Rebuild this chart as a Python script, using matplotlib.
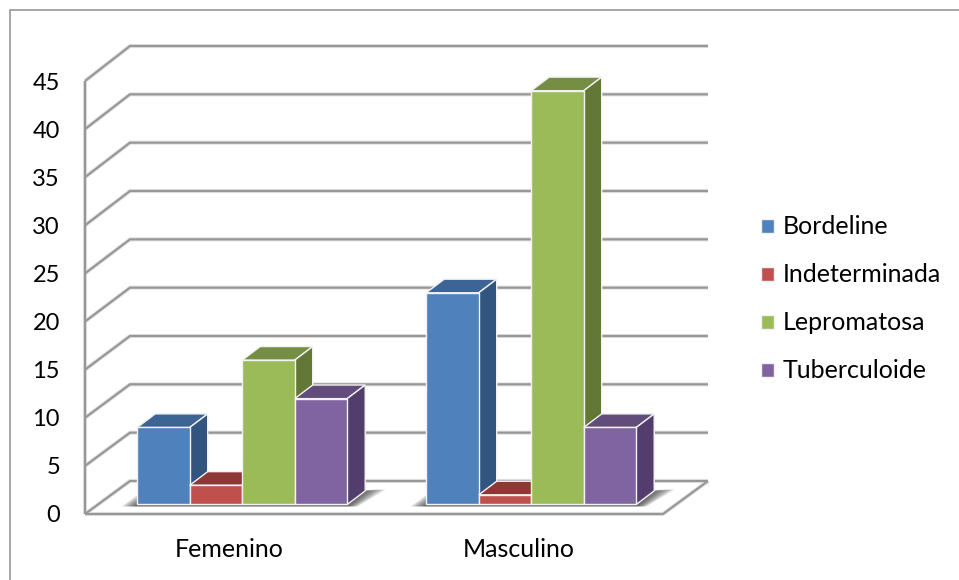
import matplotlib
matplotlib.use("Agg")
import matplotlib.pyplot as plt
from matplotlib.patches import Polygon, Rectangle

plt.rcParams['font.family'] = ['Lato', 'DejaVu Sans']

# Cases per sex and clinical form
categories = ['Femenino', 'Masculino']
series_names = ['Bordeline', 'Indeterminada', 'Lepromatosa', 'Tuberculoide']
bordeline = [8, 22]
indeterminada = [2, 1]
lepromatosa = [15, 43]
tuberculoide = [11, 8]
series_values = [bordeline, indeterminada, lepromatosa, tuberculoide]
y_ticks = list(range(0, 50, 5))

front_colors = ['#4F81BD', '#C0504D', '#9BBB59', '#8064A2']
top_colors = ['#3C6494', '#8E3735', '#768E43', '#624C7C']
side_colors = ['#32557F', '#7A2E2C', '#637736', '#523D6D']

GRID = '#979797'
GRID_HALO = '#e4e4e4'
BAR_EDGE = '#f2f2f2'

# Oblique projection used to fake depth, in axis units
WALL_DX, WALL_DY = 45 / 289, 33 / 9.622
BAR_DX, BAR_DY = 18 / 289, 13.6 / 9.622
BAR_WIDTH = 52.5 / 289
BAR_SHIFT = 12.7 / 289
BASELINE = 0.99

fig = plt.figure(figsize=(9.59, 5.8), dpi=100, facecolor='white')
ax = fig.add_axes([85 / 959, (580 - 514) / 580, 578 / 959, 433 / 580])
ax.set_xlim(-0.5, 1.5)
ax.set_ylim(0, 45)
ax.patch.set_visible(False)
for spine in ax.spines.values():
    spine.set_visible(False)

# Outer chart border, running off the top-left corner of the canvas
fig.add_artist(Rectangle((9.5 / 959, -0.1), 1.1, 1.1 - 10 / 580,
                         transform=fig.transFigure, fill=False,
                         edgecolor='#8e8e8e', linewidth=1.1))


def wall_line(xs, ys, z=1):
    ax.plot(xs, ys, color=GRID_HALO, lw=3.0, clip_on=False, zorder=z,
            solid_joinstyle='miter', solid_capstyle='butt')
    ax.plot(xs, ys, color=GRID, lw=1.6, clip_on=False, zorder=z + 0.1,
            solid_joinstyle='miter', solid_capstyle='butt')


# Back wall gridlines with their slanted return on the side wall
x_l, x_r = -0.5, 1.5
for tick in y_ticks:
    back = tick * 1.0046 + WALL_DY
    wall_line([x_l, x_l + WALL_DX, x_r + WALL_DX], [tick, back, back])

# Side wall edge and floor outline
wall_line([x_l, x_l], [0, 45])
wall_line([x_l, x_r, x_r + WALL_DX], [0, 0, WALL_DY])

order = 10
handles = []
for g in range(len(categories)):
    center = g + BAR_SHIFT
    left = center - 2 * BAR_WIDTH
    right = center + 2 * BAR_WIDTH

    # Soft floor shadow behind each cluster
    for step in range(8):
        s = 1 - step / 8
        spread = 0.085 * s + 0.004
        ax.add_patch(Polygon(
            [(left - spread * 0.6, BASELINE - 0.2),
             (left + 0.01, BASELINE + 1.2 * s),
             (right, BASELINE + 1.2 * s),
             (right + BAR_DX, BASELINE + BAR_DY),
             (right + BAR_DX + spread * 0.8, BASELINE + BAR_DY + 0.15),
             (right + spread * 0.4, BASELINE - 0.2)],
            closed=True, facecolor='#3a3a3a', edgecolor='none',
            alpha=0.15, zorder=5, clip_on=False))

    for i, values in enumerate(series_values):
        v = values[g]
        x0 = left + i * BAR_WIDTH
        x1 = x0 + BAR_WIDTH
        y1 = BASELINE + v
        y0 = BASELINE
        ax.add_patch(Polygon(
            [(x0, y1), (x1, y1), (x1 + BAR_DX, y1 + BAR_DY), (x0 + BAR_DX, y1 + BAR_DY)],
            closed=True, facecolor=top_colors[i], edgecolor=BAR_EDGE,
            linewidth=1.0, zorder=order, clip_on=False))
        ax.add_patch(Polygon(
            [(x1, y0), (x1 + BAR_DX, y0 + BAR_DY), (x1 + BAR_DX, y1 + BAR_DY), (x1, y1)],
            closed=True, facecolor=side_colors[i], edgecolor=BAR_EDGE,
            linewidth=1.0, zorder=order + 1, clip_on=False))
        bars = ax.bar(x0, v, BAR_WIDTH, bottom=BASELINE, align='edge',
                      color=front_colors[i], edgecolor=BAR_EDGE, linewidth=1.0,
                      zorder=order + 2, clip_on=False,
                      label=series_names[i] if g == 0 else None)
        if g == 0:
            handles.append(bars)
        order += 3

ax.set_xticks(range(len(categories)), categories)
ax.set_yticks(y_ticks, [str(t) for t in y_ticks])
ax.tick_params(axis='x', length=0, labelsize=18, labelcolor='black', pad=17)
ax.tick_params(axis='y', length=0, labelsize=17, labelcolor='black', pad=18)

ax.legend(handles=handles, loc='center left',
          bbox_to_anchor=(755 / 959, (580 - 299) / 580),
          bbox_transform=fig.transFigure, frameon=False, fontsize=18,
          handlelength=0.5, handleheight=0.5, handletextpad=0.36,
          labelspacing=1.0, borderpad=0, borderaxespad=0.25)

fig.savefig('out.png', dpi=100, facecolor='white')
